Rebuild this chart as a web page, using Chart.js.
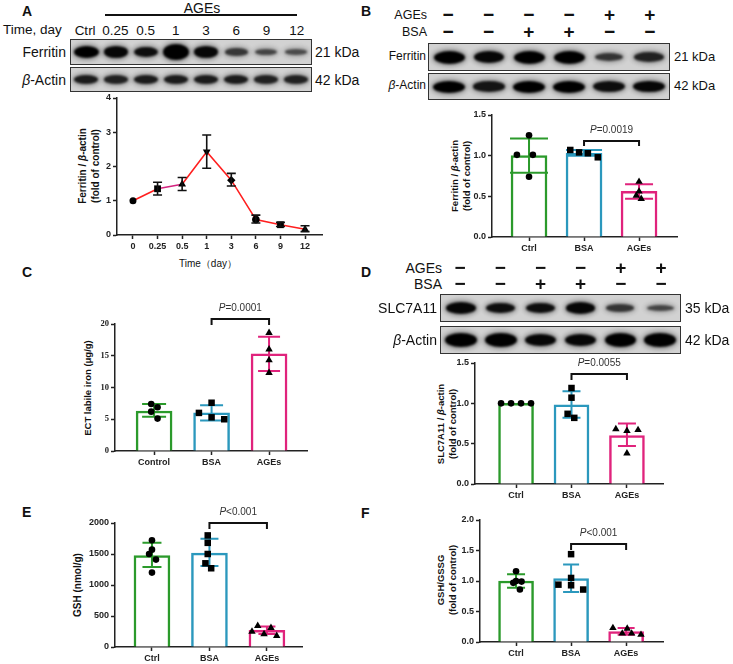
<!DOCTYPE html>
<html><head><meta charset="utf-8">
<script src="https://cdn.jsdelivr.net/npm/chart.js@4.4.0/dist/chart.umd.min.js"></script>
<style>
body{margin:0;width:733px;height:664px;position:relative;background:#fff;font-family:"Liberation Sans",Arial,sans-serif;overflow:hidden;color:#111}
.blot{position:absolute;border:1.5px solid #333;background:#d2d2d2;display:flex;align-items:center;box-sizing:border-box;overflow:hidden}
.lane{flex:1;display:flex;justify-content:center;align-items:center;height:100%}
.band{border-radius:50%;background:#000;filter:blur(1.3px);box-shadow:0 0 4px 2px rgba(0,0,0,0.35)}
.row{position:absolute;display:flex;transform:translateY(-50%)}
.row span{flex:1;text-align:center}
canvas{position:absolute}
</style>
</head><body>
<script>
// ---------------- DATA ----------------
const timeLabels = ['0','0.25','0.5','1','3','6','9','12'];
const laneLabelsA = ['Ctrl','0.25','0.5','1','3','6','9','12'];
const ferritinTime = [1.0, 1.35, 1.48, 2.43, 1.6, 0.45, 0.3, 0.17];
const ferritinTimeLo = [1.0, 1.17, 1.3, 1.95, 1.43, 0.35, 0.25, 0.1];
const ferritinTimeHi = [1.0, 1.54, 1.68, 2.92, 1.8, 0.58, 0.37, 0.27];
const yTicksA = [0, 1, 2, 3, 4];

const groups = ['Ctrl','BSA','AGEs'];
const groupsC = ['Control','BSA','AGEs'];
const agesSigns = ['−','−','−','−','+','+'];
const bsaSigns  = ['−','−','+','+','−','−'];

// blot band intensities (relative)
const bandFerritinA = [1.0, 0.95, 0.9, 1.35, 0.95, 0.6, 0.5, 0.45];
const bandActinA    = [0.8, 0.75, 0.8, 0.8, 0.8, 0.8, 0.75, 0.75];
const bandFerritinB = [1.0, 0.95, 1.0, 1.0, 0.62, 0.75];
const bandActinB    = [1.0, 0.85, 1.0, 1.0, 0.9, 0.95];
const bandSlcD      = [0.95, 0.9, 0.9, 0.95, 0.62, 0.5];
const bandActinD    = [1.05, 1.1, 0.95, 0.95, 1.05, 1.05];

// B: ferritin / beta-actin
const meanB = [1.0, 1.03, 0.56];
const loB = [0.79, 1.0, 0.47];
const hiB = [1.21, 1.07, 0.65];
const ptsB = [[1.25, 1.01, 1.01, 0.74], [1.07, 1.04, 1.03, 0.98], [0.68, 0.56, 0.51, 0.47]];
const yTicksB = [0, 0.5, 1.0, 1.5];

// C: ECT labile iron
const meanC = [6.3, 6.0, 15.3];
const loC = [5.4, 4.8, 12.6];
const hiC = [7.4, 7.2, 18.0];
const ptsC = [[7.4, 6.9, 6.2, 5.1], [7.6, 6.0, 5.3, 5.0], [18.6, 16.0, 14.3, 12.3]];
const yTicksC = [0, 5, 10, 15, 20];

// D: SLC7A11 / beta-actin
const meanD = [1.0, 0.98, 0.6];
const loD = [1.0, 0.82, 0.47];
const hiD = [1.0, 1.15, 0.75];
const ptsD = [[1.0, 1.0, 1.0, 1.0], [1.19, 1.07, 0.87, 0.82], [0.68, 0.66, 0.67, 0.38]];
const yTicksD = [0, 0.5, 1.0, 1.5];

// E: GSH
const meanE = [1475, 1515, 270];
const loE = [1290, 1305, 210];
const hiE = [1680, 1745, 330];
const ptsE = [[1720, 1570, 1500, 1410, 1200], [1800, 1680, 1500, 1350, 1270], [340, 310, 250, 210, 180]];
const yTicksE = [0, 500, 1000, 1500, 2000];

// F: GSH/GSSG
const meanF = [1.0, 1.04, 0.17];
const loF = [0.89, 0.82, 0.12];
const hiF = [1.11, 1.27, 0.23];
const ptsF = [[1.16, 1.0, 0.99, 0.97, 0.86], [1.44, 1.05, 0.94, 0.93, 0.86], [0.23, 0.22, 0.14, 0.14, 0.12]];
const yTicksF = [0, 0.5, 1.0, 1.5, 2.0];

// horizontal scatter offsets (layout only)
const jitB = [[0, -0.22, 0.07, 0], [-0.25, -0.09, 0.07, 0.25], [0, 0, -0.05, 0.04]];
const jitC = [[-0.05, 0.06, -0.05, 0.06], [0, -0.22, 0, 0.22], [0, 0, 0, 0]];
const jitD = [[-0.27, -0.09, 0.09, 0.27], [0, 0, -0.07, 0.05], [-0.2, 0, 0.2, 0]];
const jitE = [[0, 0, -0.05, 0.07, 0], [-0.03, -0.03, -0.03, -0.07, 0.03], [-0.16, 0.07, -0.26, -0.05, 0.17]];
const jitF = [[0, 0, 0.1, -0.05, 0.07], [0, 0, -0.23, 0, 0.22], [-0.24, 0.02, -0.07, 0.1, 0.27]];

// ---------------- STYLE / HELPERS ----------------
const COLORS = ['#2b9a2b', '#2b98bd', '#e0237c'];
const FONT = '"Liberation Sans", Arial, sans-serif';
Chart.defaults.font.family = FONT;
Chart.defaults.color = '#222';

function label(html, x, y, o = {}) {
  const d = document.createElement('div');
  d.innerHTML = html;
  const size = o.size || 13;
  let tx = o.align === 'right' ? '-100%' : (o.align === 'center' ? '-50%' : '0');
  let tr = `translate(${tx},-50%)`;
  if (o.rot) tr = 'translate(-50%,-50%) rotate(-90deg)';
  d.style.cssText = `position:absolute;left:${x}px;top:${y}px;white-space:nowrap;font-size:${size}px;font-weight:${o.weight || 'normal'};line-height:${o.lh || 1.15};text-align:center;transform:${tr};color:${o.color || '#111'}`;
  document.body.appendChild(d);
  return d;
}
function hline(x, y, w, t) {
  const d = document.createElement('div');
  d.style.cssText = `position:absolute;left:${x}px;top:${y}px;width:${w}px;height:${t}px;background:#111`;
  document.body.appendChild(d);
}
function row(items, x, y, w, size, weight) {
  const d = document.createElement('div');
  d.className = 'row';
  d.style.cssText += `left:${x}px;top:${y}px;width:${w}px;font-size:${size}px;font-weight:${weight}`;
  items.forEach(t => { const s = document.createElement('span'); s.textContent = t; d.appendChild(s); });
  document.body.appendChild(d);
}
function blot(x, y, w, h, intens, bw, bh) {
  const d = document.createElement('div');
  d.className = 'blot';
  d.style.left = x + 'px'; d.style.top = y + 'px'; d.style.width = w + 'px'; d.style.height = h + 'px';
  intens.forEach(k => {
    const lane = document.createElement('div'); lane.className = 'lane';
    const b = document.createElement('div'); b.className = 'band';
    b.style.width = (bw * (0.8 + 0.2 * k)) + 'px';
    b.style.height = (bh * k) + 'px';
    b.style.opacity = Math.min(1, 0.35 + 0.65 * k);
    lane.appendChild(b); d.appendChild(lane);
  });
  document.body.appendChild(d);
}

function errPlugin(xs, lo, hi, colors, caps, lw) {
  return {
    id: 'errbars',
    afterDatasetDraw(chart, args) {
      if (args.meta.type !== 'bar' && args.meta.type !== 'line') return;
      const ctx = chart.ctx, sx = chart.scales.x, sy = chart.scales.y;
      ctx.save();
      ctx.lineWidth = lw;
      xs.forEach((xv, i) => {
        if (lo[i] === hi[i]) return;
        const px = sx.getPixelForValue(xv), y1 = sy.getPixelForValue(lo[i]), y2 = sy.getPixelForValue(hi[i]);
        const c = caps[i] / 2;
        ctx.strokeStyle = colors[i];
        ctx.beginPath();
        ctx.moveTo(px, y1); ctx.lineTo(px, y2);
        ctx.moveTo(px - c, y1); ctx.lineTo(px + c, y1);
        ctx.moveTo(px - c, y2); ctx.lineTo(px + c, y2);
        ctx.stroke();
      });
      ctx.restore();
    }
  };
}
function bracketPlugin(b) {
  return {
    id: 'bracket',
    afterDraw(chart) {
      const ctx = chart.ctx, sx = chart.scales.x, sy = chart.scales.y;
      const x1 = sx.getPixelForValue(b.from), x2 = sx.getPixelForValue(b.to), y = Math.round(sy.getPixelForValue(b.y));
      ctx.save();
      ctx.strokeStyle = '#111'; ctx.lineWidth = 2;
      ctx.beginPath();
      ctx.moveTo(x1, y + b.leg); ctx.lineTo(x1, y); ctx.lineTo(x2, y); ctx.lineTo(x2, y + b.leg);
      ctx.stroke();
      ctx.fillStyle = '#333';
      ctx.textBaseline = 'middle';
      ctx.font = 'italic 10px ' + FONT;
      const w1 = ctx.measureText('P').width;
      ctx.font = '10px ' + FONT;
      const w2 = ctx.measureText(b.text).width;
      const start = (x1 + x2) / 2 - (w1 + w2) / 2;
      const ty = y - 11;
      ctx.font = 'italic 10px ' + FONT;
      ctx.fillText('P', start, ty);
      ctx.font = '10px ' + FONT;
      ctx.fillText(b.text, start + w1, ty);
      ctx.restore();
    }
  };
}

function axisCommon(extra) {
  return Object.assign({
    offset: false,
    grid: { display: true, offset: false, drawOnChartArea: false, drawTicks: true, tickLength: 4, tickColor: '#222', tickWidth: 1.5 },
    border: { display: true, color: '#222', width: 1.5 }
  }, extra);
}

function makeCanvas(area, W, H, padT, padR) {
  const cv = document.createElement('canvas');
  const w = area.r - area.l + W + padR, h = area.b - area.t + padT + H;
  cv.width = w; cv.height = h;
  cv.style.left = (area.l - W) + 'px'; cv.style.top = (area.t - padT) + 'px';
  cv.style.width = w + 'px'; cv.style.height = h + 'px';
  document.body.appendChild(cv);
  return cv;
}

function barChart(o) {
  const W = 34, H = 26, padT = 40, padR = 8;
  const cv = makeCanvas(o.area, W, H, padT, padR);
  const styles = ['circle', 'rect', 'triangle'];
  const radii = [3.3, 4.6, 4.3];
  const ds = o.pts.map((arr, g) => ({
    type: 'scatter',
    data: arr.map((v, j) => ({ x: g + 1 + o.jit[g][j], y: v })),
    pointStyle: styles[g], pointRadius: radii[g],
    backgroundColor: '#000', borderColor: '#000', borderWidth: 0
  }));
  ds.push({
    type: 'bar', label: 'bars',
    data: o.mean.map((m, g) => ({ x: g + 1, y: m })),
    backgroundColor: '#fff', borderColor: COLORS, borderWidth: 2.5,
    barThickness: o.bw, borderSkipped: 'bottom'
  });
  new Chart(cv, {
    type: 'bar',
    data: { datasets: ds },
    options: {
      responsive: false, animation: false, devicePixelRatio: 1,
      layout: { padding: { top: padT, right: padR, left: 0, bottom: 0 } },
      plugins: { legend: { display: false }, tooltip: { enabled: false } },
      scales: {
        x: axisCommon({
          type: 'linear', min: o.xmin, max: o.xmax,
          afterBuildTicks: s => { s.ticks = o.cats.map((c, i) => ({ value: i + 1 })); },
          ticks: { callback: (v, i) => o.cats[i], font: { size: 9, weight: 'bold' }, padding: 2, maxRotation: 0, autoSkip: false },
          afterFit: s => { s.height = H; }
        }),
        y: axisCommon({
          type: 'linear', min: 0, max: o.yticks[o.yticks.length - 1],
          afterBuildTicks: s => { s.ticks = o.yticks.map(v => ({ value: v })); },
          ticks: { callback: v => o.dec ? v.toFixed(o.dec) : String(v), font: o.yfont || { size: 9, weight: 'bold' }, padding: 2 },
          afterFit: s => { s.width = W; }
        })
      }
    },
    plugins: [errPlugin([1, 2, 3], o.lo, o.hi, COLORS, o.caps, 2), bracketPlugin(o.bracket)]
  });
}

// ---------------- PANEL A ----------------
label('A', 22, 11, { size: 14, weight: 'bold' });
label('AGEs', 202, 8, { size: 14, align: 'center' });
hline(105, 14, 192, 2);
label('Time, day', 3, 30, { size: 13.5 });
row(laneLabelsA, 70, 30, 242, 13.5, 'normal');
blot(70, 39, 242, 26, bandFerritinA, 25, 12);
blot(70, 67, 242, 25, bandActinA, 26, 11);
label('Ferritin', 66, 52, { size: 14, align: 'right' });
label('<i>β</i>-Actin', 66, 80, { size: 14, align: 'right' });
label('21 kDa', 315, 52, { size: 14 });
label('42 kDa', 315, 80, { size: 14 });
label('Ferritin / <i>β</i>-actin<br>(fold of control)', 89, 166, { size: 10, weight: 'bold', rot: true, lh: 1.3 });
label('Time（day）', 208, 264, { size: 10, align: 'center' });

(function () {
  const area = { l: 117, t: 98, r: 322, b: 235 };
  const W = 34, H = 26, padT = 12, padR = 10;
  const cv = makeCanvas(area, W, H, padT, padR);
  const styles = ['circle', 'rect', 'triangle', 'triangle', 'rectRot', 'circle', 'rect', 'triangle'];
  const rots = [0, 0, 0, 180, 0, 0, 0, 0];
  const radii = [3.5, 4.8, 4.5, 4.5, 4.2, 3.8, 4.8, 4.5];
  new Chart(cv, {
    type: 'line',
    data: {
      datasets: [{
        data: ferritinTime.map((v, i) => ({ x: i, y: v })),
        borderColor: '#ff1f1f', borderWidth: 1.6,
        segment: { borderColor: c => c.p0DataIndex === 1 ? '#d4237f' : '#ff1f1f' },
        pointStyle: styles, pointRotation: rots, pointRadius: radii,
        pointBackgroundColor: '#000', pointBorderColor: '#000', pointBorderWidth: 0,
        tension: 0
      }]
    },
    options: {
      responsive: false, animation: false, devicePixelRatio: 1,
      layout: { padding: { top: padT, right: padR, left: 0, bottom: 0 } },
      plugins: { legend: { display: false }, tooltip: { enabled: false } },
      scales: {
        x: axisCommon({
          type: 'linear', min: -0.65, max: 7.69,
          afterBuildTicks: s => { s.ticks = timeLabels.map((c, i) => ({ value: i })); },
          ticks: { callback: (v, i) => timeLabels[i], font: { size: 9, weight: 'bold' }, padding: 2, maxRotation: 0, autoSkip: false },
          afterFit: s => { s.height = H; }
        }),
        y: axisCommon({
          type: 'linear', min: 0, max: 4,
          afterBuildTicks: s => { s.ticks = yTicksA.map(v => ({ value: v })); },
          ticks: { font: { size: 9, weight: 'bold' }, padding: 2 },
          afterFit: s => { s.width = W; }
        })
      }
    },
    plugins: [errPlugin(ferritinTime.map((v, i) => i), ferritinTimeLo, ferritinTimeHi, Array(8).fill('#111'), Array(8).fill(9), 1.6)]
  });
})();

// ---------------- PANEL B ----------------
label('B', 361, 11, { size: 14, weight: 'bold' });
label('AGEs', 427, 15, { size: 12.5, align: 'right' });
label('BSA', 427, 32, { size: 12.5, align: 'right' });
row(agesSigns, 428, 15, 242, 19, 'bold');
row(bsaSigns, 428, 32, 242, 19, 'bold');
blot(428, 43, 242, 28, bandFerritinB, 31, 13);
blot(428, 73, 242, 27, bandActinB, 32, 12);
label('Ferritin', 426, 57, { size: 12, align: 'right' });
label('<i>β</i>-Actin', 426, 86, { size: 12, align: 'right' });
label('21 kDa', 674, 57, { size: 13 });
label('42 kDa', 674, 86, { size: 13 });
label('Ferritin / <i>β</i>-actin<br>(fold of control)', 461, 176, { size: 9.5, weight: 'bold', rot: true, lh: 1.3 });
barChart({
  area: { l: 492, t: 115, r: 677, b: 237 }, xmin: 0.327, xmax: 3.69, bw: 36,
  cats: groups, mean: meanB, lo: loB, hi: hiB, pts: ptsB, jit: jitB, yticks: yTicksB, dec: 1,
  caps: [38, 36, 28], bracket: { from: 2, to: 3, y: 1.18, leg: 5, text: '=0.0019' }
});

// ---------------- PANEL C ----------------
label('C', 22, 272, { size: 14, weight: 'bold' });
label('ECT labile iron (μg/g)', 88, 388, { size: 9.5, weight: 'bold', rot: true });
barChart({
  area: { l: 115, t: 324, r: 307, b: 451 }, xmin: 0.32, xmax: 3.66, bw: 36,
  cats: groupsC, mean: meanC, lo: loC, hi: hiC, pts: ptsC, jit: jitC, yticks: yTicksC, dec: 0,
  yfont: { family: '"Liberation Serif", serif', size: 8.5, weight: 'bold' },
  caps: [24, 23, 22], bracket: { from: 2, to: 3, y: 20.8, leg: 6, text: '=0.0001' }
});

// ---------------- PANEL D ----------------
label('D', 361, 272, { size: 14, weight: 'bold' });
label('AGEs', 442, 268, { size: 14, align: 'right' });
label('BSA', 442, 284, { size: 14, align: 'right' });
row(agesSigns, 440, 268, 241, 19, 'bold');
row(bsaSigns, 440, 284, 241, 19, 'bold');
blot(440, 294, 241, 28, bandSlcD, 30, 12);
blot(440, 326, 241, 28, bandActinD, 31, 13);
label('SLC7A11', 437, 308, { size: 14, align: 'right' });
label('<i>β</i>-Actin', 437, 340, { size: 14, align: 'right' });
label('35 kDa', 685, 308, { size: 14 });
label('42 kDa', 685, 340, { size: 14 });
label('SLC7A11 / <i>β</i>-actin<br>(fold of control)', 447, 424, { size: 9.5, weight: 'bold', rot: true, lh: 1.3 });
barChart({
  area: { l: 475, t: 363, r: 663, b: 484 }, xmin: 0.26, xmax: 3.65, bw: 35,
  cats: groups, mean: meanD, lo: loD, hi: hiD, pts: ptsD, jit: jitD, yticks: yTicksD, dec: 1,
  caps: [18, 18, 18], bracket: { from: 2, to: 3, y: 1.36, leg: 6, text: '=0.0055' }
});

// ---------------- PANEL E ----------------
label('E', 22, 512, { size: 14, weight: 'bold' });
label('GSH (nmol/g)', 78, 585, { size: 10, weight: 'bold', rot: true });
barChart({
  area: { l: 115, t: 523, r: 302, b: 647 }, xmin: 0.357, xmax: 3.61, bw: 36,
  cats: groups, mean: meanE, lo: loE, hi: hiE, pts: ptsE, jit: jitE, yticks: yTicksE, dec: 0,
  caps: [19, 18, 17], bracket: { from: 2, to: 3, y: 2000, leg: 6, text: '<0.001' }
});

// ---------------- PANEL F ----------------
label('F', 361, 513, { size: 14, weight: 'bold' });
label('GSH/GSSG<br>(fold of control)', 447, 580, { size: 9.5, weight: 'bold', rot: true, lh: 1.3 });
barChart({
  area: { l: 480, t: 520, r: 663, b: 642 }, xmin: 0.345, xmax: 3.67, bw: 35,
  cats: groups, mean: meanF, lo: loF, hi: hiF, pts: ptsF, jit: jitF, yticks: yTicksF, dec: 1,
  caps: [18, 16, 17], bracket: { from: 2, to: 3, y: 1.6, leg: 6, text: '<0.001' }
});
</script>
</body></html>
